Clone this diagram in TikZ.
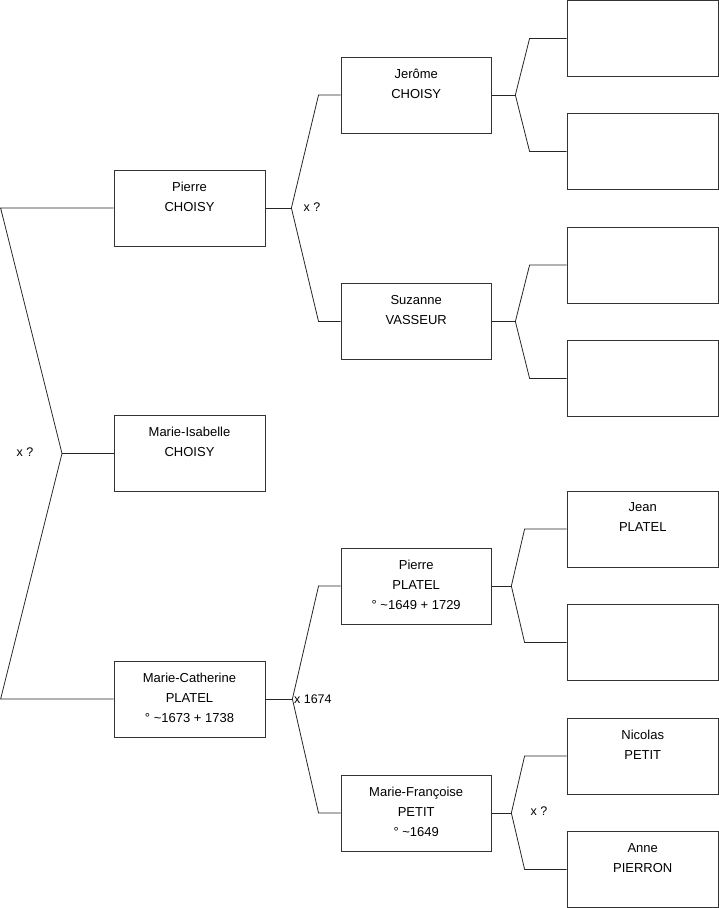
\documentclass[tikz,border=0pt]{standalone}
\usepackage{fontspec}
\setmainfont{Liberation Sans}
\tikzset{
  person/.style={draw=black!80, line width=0.8pt, minimum width=151pt, minimum height=76pt,
    inner sep=0pt, align=center, font=\fontsize{13}{20}\selectfont,
    execute at end node={\rule[-3pt]{0pt}{3pt}}},
  link/.style={draw=black!85, line width=0.8pt},
  union/.style={inner sep=0pt, font=\fontsize{12.5}{15}\selectfont},
}

\begin{document}
\begin{tikzpicture}[x=1pt, y=-1pt]
  \useasboundingbox (0,0) rectangle (719,908);

  %% Generation 1
  \node[person] (pierreC) at (189.5,208) {Pierre\\CHOISY\\\mbox{}};
  \node[person] (isabelle) at (189.5,453.5) {Marie-Isabelle\\CHOISY\\\mbox{}};
  \node[person] (catherine) at (189.5,699) {Marie-Catherine\\PLATEL\\° \textasciitilde1673 + 1738};

  %% Generation 2
  \node[person, minimum width=150.5pt] (jerome) at (416.2,95) {Jerôme\\CHOISY\\\mbox{}};
  \node[person, minimum width=150.5pt] (suzanne) at (416.2,321.5) {Suzanne\\VASSEUR\\\mbox{}};
  \node[person, minimum width=150.5pt] (pierreP) at (416.2,586) {Pierre\\PLATEL\\° \textasciitilde1649 + 1729};
  \node[person, minimum width=150.5pt] (francoise) at (416.2,813) {Marie-Françoise\\PETIT\\° \textasciitilde1649};

  %% Generation 3
  \node[person, minimum width=151.5pt] (gpa1) at (642.75,38.4) {};
  \node[person, minimum width=151.5pt] (gma1) at (642.75,151.5) {};
  \node[person, minimum width=151.5pt] (gpa2) at (642.75,265) {};
  \node[person, minimum width=151.5pt] (gma2) at (642.75,378.5) {};
  \node[person, minimum width=151.5pt] (jean) at (642.75,529) {Jean\\PLATEL\\\mbox{}};
  \node[person, minimum width=151.5pt] (gma3) at (642.75,642.5) {};
  \node[person, minimum width=151.5pt] (nicolas) at (642.75,756) {Nicolas\\PETIT\\\mbox{}};
  \node[person, minimum width=151.5pt] (anne) at (642.75,869.4) {Anne\\PIERRON\\\mbox{}};

  %% Unions
  \coordinate (u0) at (62,453.5);
  \coordinate (u1) at ([xshift=26pt]pierreC.east);
  \coordinate (u2) at ([xshift=27pt]catherine.east);
  \coordinate (u3) at ([xshift=23.5pt]jerome.east);
  \coordinate (u4) at ([xshift=23.5pt]suzanne.east);
  \coordinate (u5) at ([xshift=19.5pt]pierreP.east);
  \coordinate (u6) at ([xshift=19.5pt]francoise.east);

  \draw[link] (pierreC.west) -- ([xshift=-113pt]pierreC.west) -- (u0)
    -- ([xshift=-113pt]catherine.west) -- (catherine.west);
  \draw[link] (u0) -- (isabelle.west);

  \draw[link] (pierreC.east) -- (u1);
  \draw[link] (jerome.west) -- ([xshift=-22pt]jerome.west) -- (u1)
    -- ([xshift=-22pt]suzanne.west) -- (suzanne.west);
  \draw[link] (catherine.east) -- (u2);
  \draw[link] (pierreP.west) -- ([xshift=-22pt]pierreP.west) -- (u2)
    -- ([xshift=-22pt]francoise.west) -- (francoise.west);

  \draw[link] (jerome.east) -- (u3);
  \draw[link] (gpa1.west) -- ([xshift=-37pt]gpa1.west) -- (u3)
    -- ([xshift=-37pt]gma1.west) -- (gma1.west);
  \draw[link] (suzanne.east) -- (u4);
  \draw[link] (gpa2.west) -- ([xshift=-37pt]gpa2.west) -- (u4)
    -- ([xshift=-37pt]gma2.west) -- (gma2.west);
  \draw[link] (pierreP.east) -- (u5);
  \draw[link] (jean.west) -- ([xshift=-42pt]jean.west) -- (u5)
    -- ([xshift=-42pt]gma3.west) -- (gma3.west);
  \draw[link] (francoise.east) -- (u6);
  \draw[link] (nicolas.west) -- ([xshift=-42pt]nicolas.west) -- (u6)
    -- ([xshift=-42pt]anne.west) -- (anne.west);

  \node[union] (m0) at (25,452) {x ?};
  \node[union] (m1) at (312,207) {x ?};
  \node[union, anchor=west] (m2) at ([xshift=1.5pt]u2) {x 1674};
  \node[union] (m3) at (539,811) {x ?};
\end{tikzpicture}
\end{document}
